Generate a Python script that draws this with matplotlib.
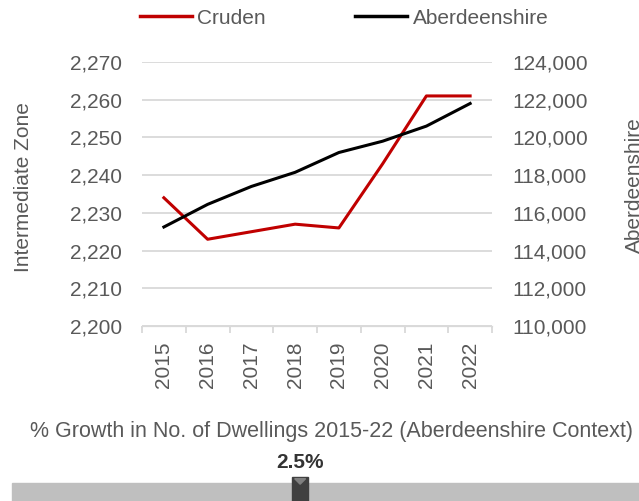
import matplotlib.pyplot as plt
import numpy as np
from matplotlib.ticker import FuncFormatter, FixedLocator
from matplotlib.patches import Rectangle, Polygon
from matplotlib.lines import Line2D

plt.rcParams['font.family'] = ['Liberation Sans', 'DejaVu Sans']

years = ['2015', '2016', '2017', '2018', '2019', '2020', '2021', '2022']
cruden = [2234, 2223, 2225, 2227, 2226, 2243, 2261, 2261]
aberdeenshire = [115250, 116450, 117400, 118150, 119200, 119800, 120600, 121800]
growth_pct = 2.5
growth_scale = (-10.0, 17.2)

TXT = '#595959'
GRID = '#d9d9d9'

fig = plt.figure(figsize=(6.39, 5.01), dpi=100)
ax = fig.add_axes([142 / 639, 1 - 326 / 501, 350 / 639, 264 / 501])
ax2 = ax.twinx()

x = np.arange(len(years))
ax.plot(x, cruden, color='#c00000', lw=2.2, zorder=3)
ax2.plot(x, aberdeenshire, color='black', lw=2.2, zorder=3)

ax.set_xlim(-0.5, len(years) - 0.5)
ax.set_ylim(2200, 2270)
ax.set_yticks(range(2200, 2271, 10))
ax2.set_ylim(110000, 124000)
ax2.set_yticks(range(110000, 124001, 2000))
fmt = FuncFormatter(lambda v, p: f'{int(v):,}')
ax.yaxis.set_major_formatter(fmt)
ax2.yaxis.set_major_formatter(fmt)

ax.yaxis.grid(True, color=GRID, lw=1.3)
ax.set_axisbelow(True)
for a in (ax, ax2):
    for s in ('top', 'left', 'right'):
        a.spines[s].set_visible(False)
    a.spines['bottom'].set_color(GRID)
    a.tick_params(axis='y', length=0, labelsize=15, labelcolor=TXT, pad=14.5)

ax.set_xticks(x)
ax.set_xticklabels(years, rotation=90)
ax.tick_params(axis='x', which='major', length=0, labelsize=15, labelcolor=TXT, pad=11)
ax.xaxis.set_minor_locator(FixedLocator(np.arange(-0.5, len(years), 1)))
ax.tick_params(axis='x', which='minor', length=5, color=GRID, width=1.3)

fig.text(14 / 639, 1 - 187 / 501, 'Intermediate Zone', rotation=90, ha='left', va='center',
         fontsize=15, color=TXT)
fig.text(625 / 639, 1 - 185 / 501, 'Aberdeenshire', rotation=90, ha='left', va='center',
         fontsize=15, color=TXT)

handles = [Line2D([], [], color='#c00000', lw=2.5), Line2D([], [], color='black', lw=2.5)]
fig.legend(handles, ['Cruden', 'Aberdeenshire'], loc='center', bbox_to_anchor=(344 / 639, 1 - 18 / 501),
           ncol=2, frameon=False, fontsize=15, labelcolor=TXT, handlelength=2.5,
           handletextpad=0.25, columnspacing=4.3)

fig.text(331 / 639, 1 - 431 / 501, '% Growth in No. of Dwellings 2015-22 (Aberdeenshire Context)',
         ha='center', va='center', fontsize=15.5, color=TXT)

bx = fig.add_axes([12 / 639, 0, 627 / 639, 18 / 501])
bx.set_xlim(*growth_scale)
bx.set_ylim(0, 1)
bx.axis('off')
bx.add_patch(Rectangle((growth_scale[0], 0), growth_scale[1] - growth_scale[0], 1,
                       color='#bfbfbf', clip_on=False))
mk = fig.add_axes([12 / 639, 0, 627 / 639, 24 / 501], sharex=bx)
mk.set_ylim(0, 1)
mk.axis('off')
w = 0.68
mk.add_patch(Rectangle((growth_pct - w / 2, 0), w, 1, color='#404040', clip_on=False))
mk.add_patch(Polygon([[growth_pct - w / 2 * 0.7, 0.93], [growth_pct + w / 2 * 0.7, 0.93],
                      [growth_pct, 0.7]], color='#808080', clip_on=False))
mk.text(growth_pct, 1.6, f'{growth_pct}%', ha='center', va='center', fontsize=15,
        fontweight='bold', color='#333333')

fig.savefig('out.png', dpi=100)
